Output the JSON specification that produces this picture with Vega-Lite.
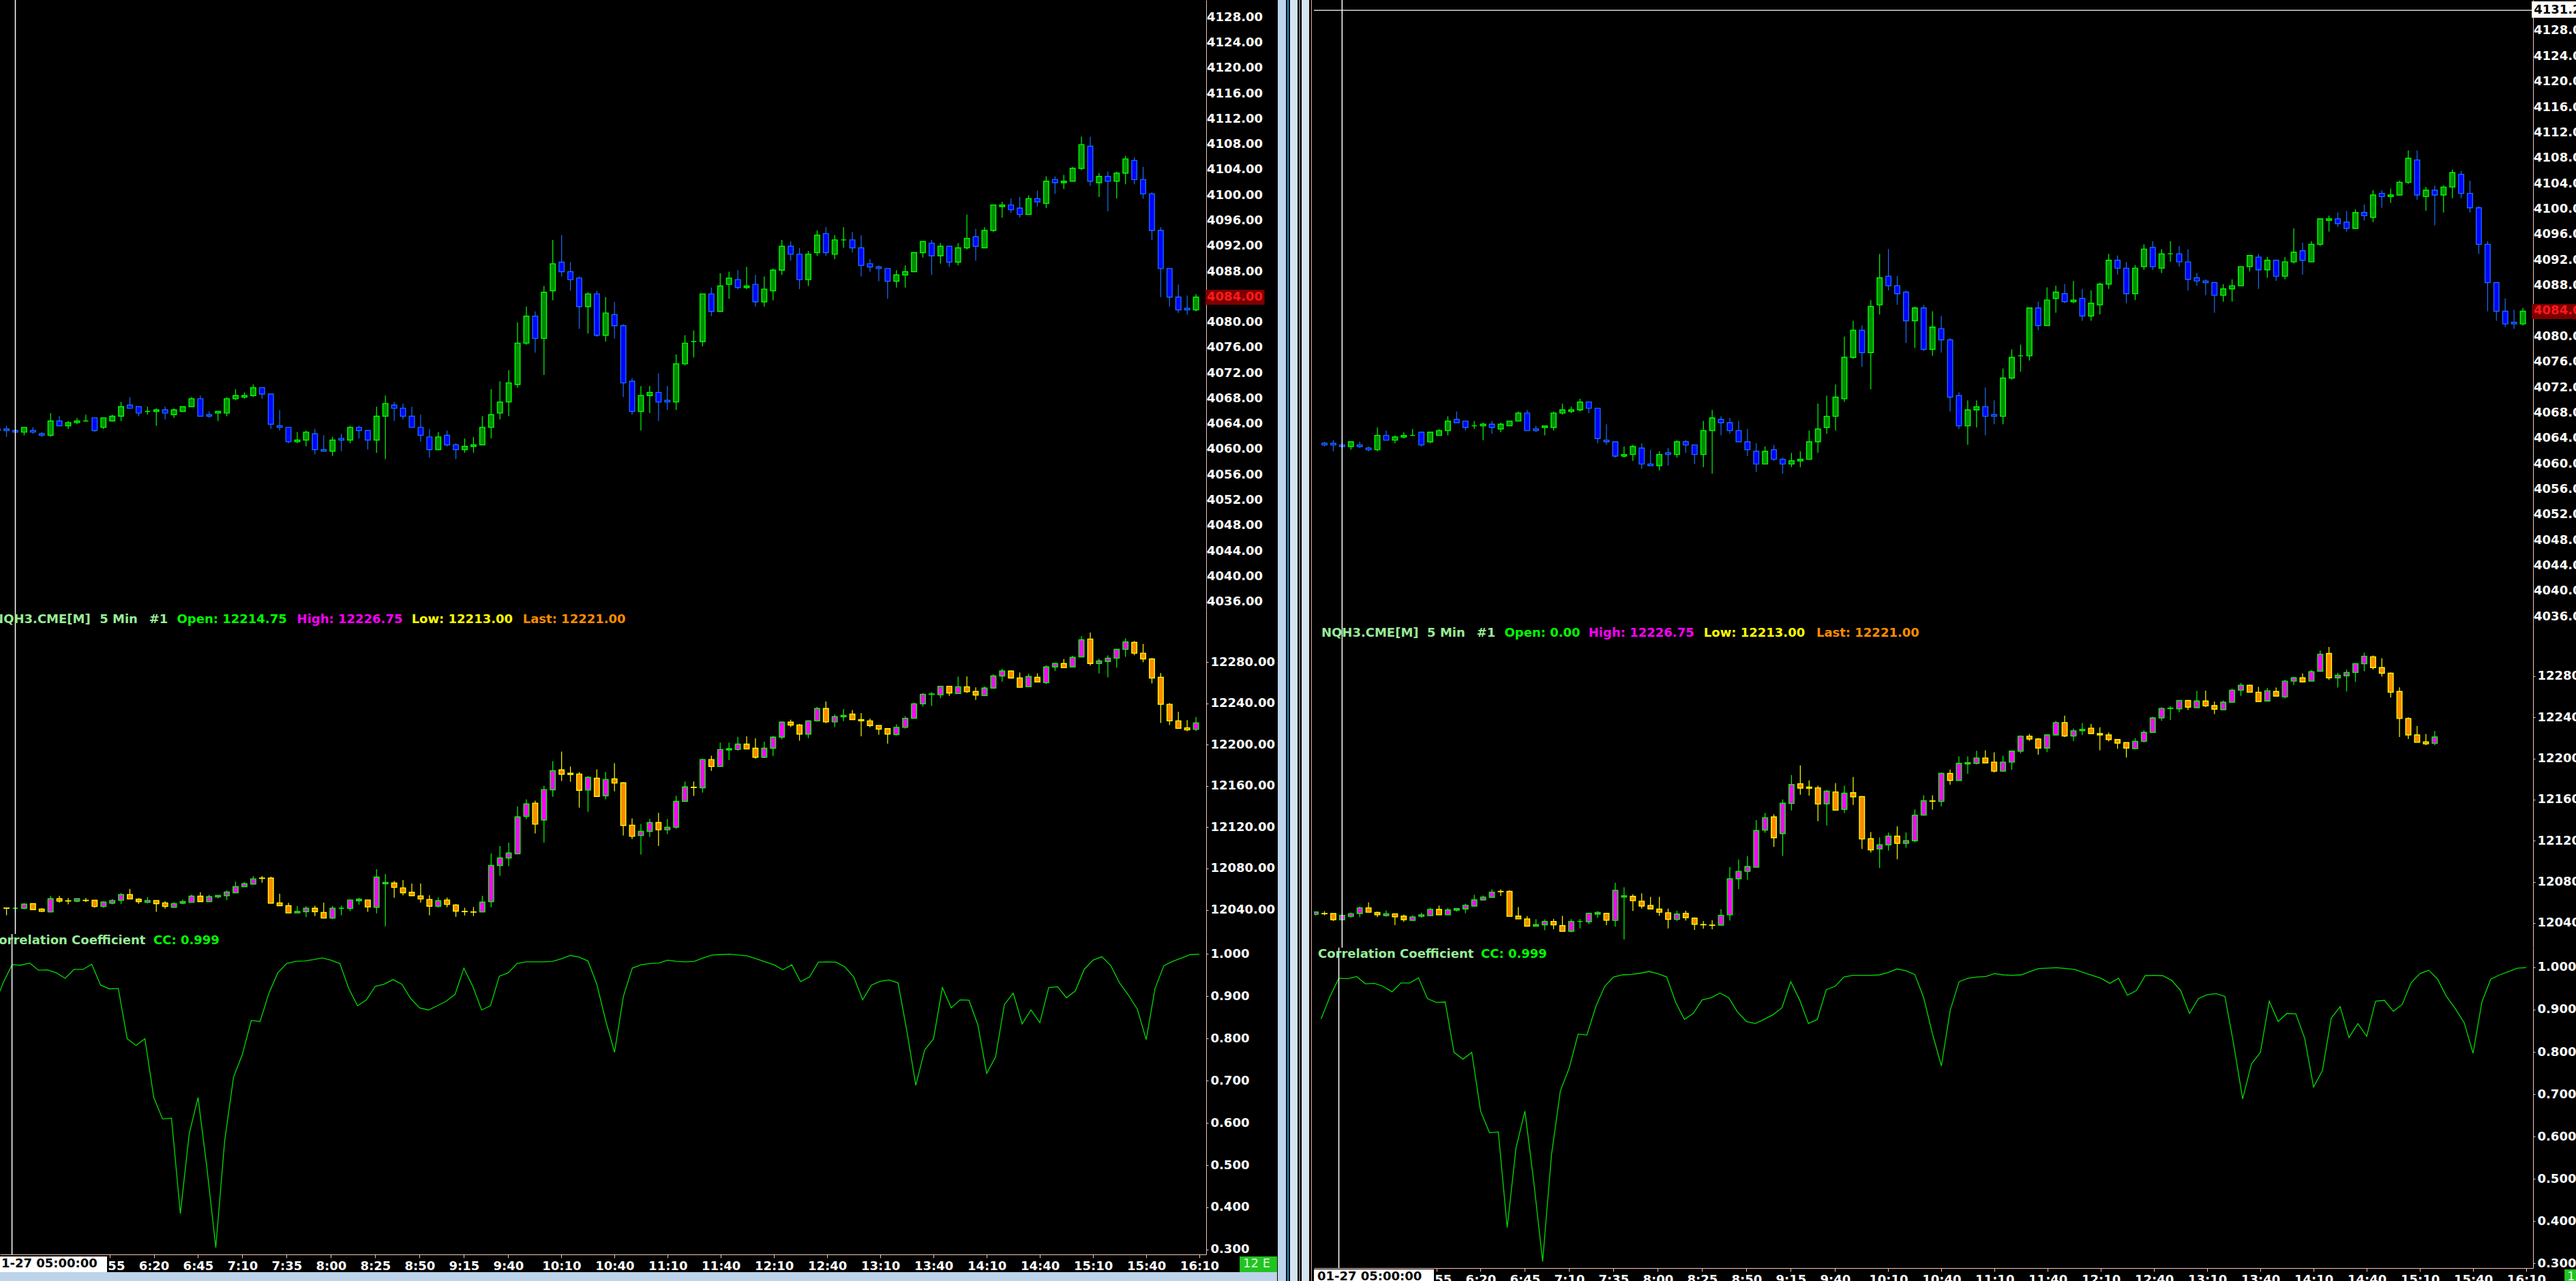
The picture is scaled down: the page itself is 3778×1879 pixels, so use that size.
{
  "$schema": "https://vega.github.io/schema/vega-lite/v6.json",
  "background": "#000000",
  "padding": 0,
  "spacing": 0,
  "config": {
    "view": {"stroke": null},
    "axis": {"grid": false, "labelFont": "DejaVu Sans", "labelFontWeight": "bold", "labelFontSize": 18, "labelColor": "#ffffff", "domainColor": "#f2c6b4", "tickColor": "#f2c6b4", "tickSize": 3, "labelPadding": 3, "labelOverlap": false, "labelFlush": false},
    "text": {"font": "DejaVu Sans", "fontWeight": "bold", "fontSize": 18, "align": "left", "baseline": "middle"}
  },
  "datasets": {
    "bars": [
      {"t": "2023-01-27T04:50", "es_o": 4063.25, "es_h": 4063.5, "es_l": 4062.75, "es_c": 4063, "cc": 0.878},
      {"t": "2023-01-27T04:55", "es_o": 4063.25, "es_h": 4063.75, "es_l": 4062, "es_c": 4063, "nq_o": 12041.75, "nq_h": 12041.75, "nq_l": 12034.75, "nq_c": 12041.5, "cc": 0.931},
      {"t": "2023-01-27T05:00", "es_o": 4063, "es_h": 4063.25, "es_l": 4062.5, "es_c": 4062.75, "nq_o": 12041.5, "nq_h": 12043.75, "nq_l": 12036.5, "nq_c": 12041.5, "cc": 0.974},
      {"t": "2023-01-27T05:05", "es_o": 4062.75, "es_h": 4063.5, "es_l": 4062.25, "es_c": 4063.5, "nq_o": 12041.5, "nq_h": 12046.25, "nq_l": 12040.5, "nq_c": 12045.5, "cc": 0.973},
      {"t": "2023-01-27T05:10", "es_o": 4063, "es_h": 4063.5, "es_l": 4062.5, "es_c": 4062.75, "nq_o": 12046, "nq_h": 12046.25, "nq_l": 12040, "nq_c": 12040.25, "cc": 0.978},
      {"t": "2023-01-27T05:15", "es_o": 4062.5, "es_h": 4062.75, "es_l": 4062, "es_c": 4062.25, "nq_o": 12040.75, "nq_h": 12041.75, "nq_l": 12038, "nq_c": 12038.5, "cc": 0.961},
      {"t": "2023-01-27T05:20", "es_o": 4062.25, "es_h": 4065.75, "es_l": 4062, "es_c": 4064.5, "nq_o": 12038, "nq_h": 12053.5, "nq_l": 12038, "nq_c": 12050.75, "cc": 0.962},
      {"t": "2023-01-27T05:25", "es_o": 4064.5, "es_h": 4065.25, "es_l": 4063.75, "es_c": 4063.75, "nq_o": 12050.75, "nq_h": 12053.5, "nq_l": 12047, "nq_c": 12048.5, "cc": 0.955},
      {"t": "2023-01-27T05:30", "es_o": 4063.75, "es_h": 4064.5, "es_l": 4063.25, "es_c": 4064.25, "nq_o": 12048.75, "nq_h": 12051.5, "nq_l": 12045.25, "nq_c": 12048.5, "cc": 0.942},
      {"t": "2023-01-27T05:35", "es_o": 4064.25, "es_h": 4065, "es_l": 4064, "es_c": 4064.5, "nq_o": 12048.5, "nq_h": 12050.75, "nq_l": 12047.25, "nq_c": 12050.75, "cc": 0.963},
      {"t": "2023-01-27T05:40", "es_o": 4064.5, "es_h": 4065.5, "es_l": 4064.5, "es_c": 4064.5, "nq_o": 12049.25, "nq_h": 12051.5, "nq_l": 12047.5, "nq_c": 12049, "cc": 0.963},
      {"t": "2023-01-27T05:45", "es_o": 4065, "es_h": 4065, "es_l": 4062.75, "es_c": 4063, "nq_o": 12049.25, "nq_h": 12049.25, "nq_l": 12042, "nq_c": 12043.25, "cc": 0.975},
      {"t": "2023-01-27T05:50", "es_o": 4063.5, "es_h": 4065, "es_l": 4063.25, "es_c": 4065, "nq_o": 12043.25, "nq_h": 12048.25, "nq_l": 12042, "nq_c": 12047.5, "cc": 0.926},
      {"t": "2023-01-27T05:55", "es_o": 4064.5, "es_h": 4065.5, "es_l": 4064.5, "es_c": 4065.25, "nq_o": 12046.5, "nq_h": 12050.25, "nq_l": 12045.25, "nq_c": 12049, "cc": 0.917},
      {"t": "2023-01-27T06:00", "es_o": 4065.25, "es_h": 4067.5, "es_l": 4064.5, "es_c": 4066.75, "nq_o": 12049.25, "nq_h": 12056.25, "nq_l": 12045.75, "nq_c": 12054.75, "cc": 0.918},
      {"t": "2023-01-27T06:05", "es_o": 4067, "es_h": 4068.25, "es_l": 4066.5, "es_c": 4066.5, "nq_o": 12054.75, "nq_h": 12060.25, "nq_l": 12050.5, "nq_c": 12050.5, "cc": 0.799},
      {"t": "2023-01-27T06:10", "es_o": 4066.75, "es_h": 4066.75, "es_l": 4065.25, "es_c": 4065.75, "nq_o": 12050.25, "nq_h": 12051.25, "nq_l": 12045.75, "nq_c": 12048, "cc": 0.783},
      {"t": "2023-01-27T06:15", "es_o": 4066, "es_h": 4066.75, "es_l": 4065.5, "es_c": 4066, "nq_o": 12047.25, "nq_h": 12052.25, "nq_l": 12046.25, "nq_c": 12049, "cc": 0.799},
      {"t": "2023-01-27T06:20", "es_o": 4066, "es_h": 4066.5, "es_l": 4063.75, "es_c": 4066.25, "nq_o": 12049, "nq_h": 12049, "nq_l": 12038, "nq_c": 12046, "cc": 0.66},
      {"t": "2023-01-27T06:25", "es_o": 4066.25, "es_h": 4066.75, "es_l": 4064.75, "es_c": 4065.75, "nq_o": 12046.75, "nq_h": 12048.25, "nq_l": 12041.25, "nq_c": 12043.25, "cc": 0.609},
      {"t": "2023-01-27T06:30", "es_o": 4065.5, "es_h": 4066.5, "es_l": 4065, "es_c": 4066.25, "nq_o": 12042.5, "nq_h": 12047.5, "nq_l": 12042.5, "nq_c": 12046, "cc": 0.611},
      {"t": "2023-01-27T06:35", "es_o": 4066, "es_h": 4066.75, "es_l": 4066, "es_c": 4066.75, "nq_o": 12046.5, "nq_h": 12050, "nq_l": 12045.25, "nq_c": 12048, "cc": 0.385},
      {"t": "2023-01-27T06:40", "es_o": 4066.75, "es_h": 4068.25, "es_l": 4066.75, "es_c": 4068, "nq_o": 12047.25, "nq_h": 12054.75, "nq_l": 12047.25, "nq_c": 12053.25, "cc": 0.574},
      {"t": "2023-01-27T06:45", "es_o": 4068, "es_h": 4068.5, "es_l": 4065.25, "es_c": 4065.25, "nq_o": 12053.25, "nq_h": 12057, "nq_l": 12048, "nq_c": 12048, "cc": 0.66},
      {"t": "2023-01-27T06:50", "es_o": 4065.5, "es_h": 4066, "es_l": 4065, "es_c": 4065.25, "nq_o": 12048, "nq_h": 12054.75, "nq_l": 12048, "nq_c": 12052.75, "cc": 0.493},
      {"t": "2023-01-27T06:55", "es_o": 4065.75, "es_h": 4066, "es_l": 4064.5, "es_c": 4066, "nq_o": 12052.5, "nq_h": 12054, "nq_l": 12051.25, "nq_c": 12054, "cc": 0.305},
      {"t": "2023-01-27T07:00", "es_o": 4065.75, "es_h": 4068.25, "es_l": 4065.25, "es_c": 4068, "nq_o": 12053.75, "nq_h": 12058.75, "nq_l": 12049.5, "nq_c": 12057.25, "cc": 0.557},
      {"t": "2023-01-27T07:05", "es_o": 4068, "es_h": 4069.5, "es_l": 4067.75, "es_c": 4068.5, "nq_o": 12056.5, "nq_h": 12067.5, "nq_l": 12056.5, "nq_c": 12062.5, "cc": 0.708},
      {"t": "2023-01-27T07:10", "es_o": 4068.25, "es_h": 4069, "es_l": 4068, "es_c": 4068.5, "nq_o": 12062.5, "nq_h": 12066.75, "nq_l": 12062.5, "nq_c": 12065.25, "cc": 0.762},
      {"t": "2023-01-27T07:15", "es_o": 4068.5, "es_h": 4070.25, "es_l": 4068.25, "es_c": 4069.75, "nq_o": 12065, "nq_h": 12072.75, "nq_l": 12065, "nq_c": 12070, "cc": 0.842},
      {"t": "2023-01-27T07:20", "es_o": 4069.75, "es_h": 4069.75, "es_l": 4068, "es_c": 4068.75, "nq_o": 12070.75, "nq_h": 12072.75, "nq_l": 12066.25, "nq_c": 12070.5, "cc": 0.84},
      {"t": "2023-01-27T07:25", "es_o": 4068.75, "es_h": 4068.75, "es_l": 4063.25, "es_c": 4064, "nq_o": 12070.75, "nq_h": 12072, "nq_l": 12046.5, "nq_c": 12046.5, "cc": 0.907},
      {"t": "2023-01-27T07:30", "es_o": 4063.75, "es_h": 4066.25, "es_l": 4063, "es_c": 4063.5, "nq_o": 12046.75, "nq_h": 12055.5, "nq_l": 12044, "nq_c": 12044, "cc": 0.955},
      {"t": "2023-01-27T07:35", "es_o": 4063.5, "es_h": 4063.5, "es_l": 4061, "es_c": 4061.25, "nq_o": 12044, "nq_h": 12046.75, "nq_l": 12037, "nq_c": 12037, "cc": 0.977},
      {"t": "2023-01-27T07:40", "es_o": 4061.25, "es_h": 4062.75, "es_l": 4061, "es_c": 4061.5, "nq_o": 12037, "nq_h": 12043.75, "nq_l": 12037, "nq_c": 12038.5, "cc": 0.982},
      {"t": "2023-01-27T07:45", "es_o": 4061.5, "es_h": 4063, "es_l": 4060.5, "es_c": 4062.75, "nq_o": 12038.25, "nq_h": 12043.5, "nq_l": 12033, "nq_c": 12041.5, "cc": 0.983},
      {"t": "2023-01-27T07:50", "es_o": 4062.5, "es_h": 4063.25, "es_l": 4059.25, "es_c": 4060, "nq_o": 12041.5, "nq_h": 12044, "nq_l": 12034, "nq_c": 12038.25, "cc": 0.986},
      {"t": "2023-01-27T07:55", "es_o": 4060, "es_h": 4062.25, "es_l": 4059.75, "es_c": 4059.75, "nq_o": 12037.5, "nq_h": 12047, "nq_l": 12032, "nq_c": 12032, "cc": 0.99},
      {"t": "2023-01-27T08:00", "es_o": 4059.75, "es_h": 4062, "es_l": 4059, "es_c": 4061.5, "nq_o": 12032, "nq_h": 12043.75, "nq_l": 12031, "nq_c": 12041.5, "cc": 0.985},
      {"t": "2023-01-27T08:05", "es_o": 4061.75, "es_h": 4062.5, "es_l": 4059.75, "es_c": 4061.5, "nq_o": 12041.5, "nq_h": 12044, "nq_l": 12034.75, "nq_c": 12041.5, "cc": 0.977},
      {"t": "2023-01-27T08:10", "es_o": 4061.5, "es_h": 4063.75, "es_l": 4061, "es_c": 4063.5, "nq_o": 12041.25, "nq_h": 12050, "nq_l": 12038.75, "nq_c": 12049.5, "cc": 0.918},
      {"t": "2023-01-27T08:15", "es_o": 4063.5, "es_h": 4063.75, "es_l": 4061.75, "es_c": 4063, "nq_o": 12048.75, "nq_h": 12051.5, "nq_l": 12045, "nq_c": 12050.25, "cc": 0.877},
      {"t": "2023-01-27T08:20", "es_o": 4063, "es_h": 4063, "es_l": 4060, "es_c": 4061.5, "nq_o": 12049.5, "nq_h": 12049.5, "nq_l": 12038, "nq_c": 12042.75, "cc": 0.891},
      {"t": "2023-01-27T08:25", "es_o": 4061.5, "es_h": 4066.75, "es_l": 4059.5, "es_c": 4065.25, "nq_o": 12042.5, "nq_h": 12079.25, "nq_l": 12036.5, "nq_c": 12071.75, "cc": 0.923},
      {"t": "2023-01-27T08:30", "es_o": 4065.25, "es_h": 4068.5, "es_l": 4058.5, "es_c": 4067.25, "nq_o": 12065.25, "nq_h": 12074.75, "nq_l": 12024, "nq_c": 12066.5, "cc": 0.928},
      {"t": "2023-01-27T08:35", "es_o": 4067, "es_h": 4067.5, "es_l": 4064.5, "es_c": 4066.5, "nq_o": 12066, "nq_h": 12068, "nq_l": 12051.75, "nq_c": 12061.75, "cc": 0.939},
      {"t": "2023-01-27T08:40", "es_o": 4066.5, "es_h": 4067.25, "es_l": 4064.75, "es_c": 4065.25, "nq_o": 12061.25, "nq_h": 12068.75, "nq_l": 12054, "nq_c": 12056.5, "cc": 0.928},
      {"t": "2023-01-27T08:45", "es_o": 4065.25, "es_h": 4066.75, "es_l": 4063.5, "es_c": 4063.5, "nq_o": 12057, "nq_h": 12065.5, "nq_l": 12053.75, "nq_c": 12053.75, "cc": 0.894},
      {"t": "2023-01-27T08:50", "es_o": 4063.5, "es_h": 4065.5, "es_l": 4061.25, "es_c": 4062.25, "nq_o": 12053.5, "nq_h": 12065.5, "nq_l": 12047, "nq_c": 12050.5, "cc": 0.872},
      {"t": "2023-01-27T08:55", "es_o": 4062, "es_h": 4063.25, "es_l": 4058.75, "es_c": 4060, "nq_o": 12050, "nq_h": 12054, "nq_l": 12034.75, "nq_c": 12043.5, "cc": 0.867},
      {"t": "2023-01-27T09:00", "es_o": 4060, "es_h": 4062.75, "es_l": 4060, "es_c": 4062, "nq_o": 12043.5, "nq_h": 12052, "nq_l": 12042, "nq_c": 12048.75, "cc": 0.877},
      {"t": "2023-01-27T09:05", "es_o": 4062.25, "es_h": 4063, "es_l": 4060.5, "es_c": 4060.75, "nq_o": 12049.5, "nq_h": 12052, "nq_l": 12042.5, "nq_c": 12045.25, "cc": 0.888},
      {"t": "2023-01-27T09:10", "es_o": 4060.75, "es_h": 4061, "es_l": 4058.5, "es_c": 4060, "nq_o": 12044.75, "nq_h": 12045.5, "nq_l": 12033.25, "nq_c": 12038.75, "cc": 0.904},
      {"t": "2023-01-27T09:15", "es_o": 4060, "es_h": 4061.75, "es_l": 4059.5, "es_c": 4060.5, "nq_o": 12038.5, "nq_h": 12042, "nq_l": 12034.5, "nq_c": 12038.25, "cc": 0.966},
      {"t": "2023-01-27T09:20", "es_o": 4060.5, "es_h": 4062, "es_l": 4059.5, "es_c": 4060.75, "nq_o": 12038, "nq_h": 12042.75, "nq_l": 12034, "nq_c": 12037.75, "cc": 0.923},
      {"t": "2023-01-27T09:25", "es_o": 4060.75, "es_h": 4065.25, "es_l": 4060.75, "es_c": 4063.5, "nq_o": 12038, "nq_h": 12053.5, "nq_l": 12038, "nq_c": 12047.5, "cc": 0.867},
      {"t": "2023-01-27T09:30", "es_o": 4063.5, "es_h": 4069.5, "es_l": 4061.75, "es_c": 4065.5, "nq_o": 12048, "nq_h": 12094.5, "nq_l": 12042.5, "nq_c": 12083, "cc": 0.877},
      {"t": "2023-01-27T09:35", "es_o": 4065.75, "es_h": 4070.75, "es_l": 4064.75, "es_c": 4067.5, "nq_o": 12083, "nq_h": 12101.75, "nq_l": 12073, "nq_c": 12090.25, "cc": 0.947},
      {"t": "2023-01-27T09:40", "es_o": 4067.5, "es_h": 4072.5, "es_l": 4065.25, "es_c": 4070.5, "nq_o": 12090.25, "nq_h": 12105, "nq_l": 12082.25, "nq_c": 12095, "cc": 0.955},
      {"t": "2023-01-27T09:45", "es_o": 4070.25, "es_h": 4080, "es_l": 4069.75, "es_c": 4076.75, "nq_o": 12094.25, "nq_h": 12140, "nq_l": 12094.25, "nq_c": 12130, "cc": 0.977},
      {"t": "2023-01-27T09:50", "es_o": 4076.75, "es_h": 4082.5, "es_l": 4076.5, "es_c": 4081, "nq_o": 12130.5, "nq_h": 12147, "nq_l": 12127.75, "nq_c": 12142.5, "cc": 0.981},
      {"t": "2023-01-27T09:55", "es_o": 4081, "es_h": 4081.75, "es_l": 4075.25, "es_c": 4077.5, "nq_o": 12143.25, "nq_h": 12145.75, "nq_l": 12114, "nq_c": 12123, "cc": 0.981},
      {"t": "2023-01-27T10:00", "es_o": 4077.5, "es_h": 4085.75, "es_l": 4071.75, "es_c": 4084.75, "nq_o": 12127, "nq_h": 12160.25, "nq_l": 12105.25, "nq_c": 12156.5, "cc": 0.981},
      {"t": "2023-01-27T10:05", "es_o": 4085, "es_h": 4093, "es_l": 4083.5, "es_c": 4089.25, "nq_o": 12156.25, "nq_h": 12184, "nq_l": 12149.5, "nq_c": 12174.75, "cc": 0.982},
      {"t": "2023-01-27T10:10", "es_o": 4089.5, "es_h": 4093.75, "es_l": 4087.25, "es_c": 4088, "nq_o": 12175.5, "nq_h": 12193.25, "nq_l": 12164.75, "nq_c": 12171.25, "cc": 0.988},
      {"t": "2023-01-27T10:15", "es_o": 4088, "es_h": 4089.5, "es_l": 4085, "es_c": 4086.75, "nq_o": 12172.25, "nq_h": 12178.75, "nq_l": 12164, "nq_c": 12171, "cc": 0.996},
      {"t": "2023-01-27T10:20", "es_o": 4087, "es_h": 4087.25, "es_l": 4079, "es_c": 4082.5, "nq_o": 12171.5, "nq_h": 12173.5, "nq_l": 12139, "nq_c": 12155.75, "cc": 0.992},
      {"t": "2023-01-27T10:25", "es_o": 4082.5, "es_h": 4084.75, "es_l": 4078.25, "es_c": 4084.5, "nq_o": 12156, "nq_h": 12169.5, "nq_l": 12135, "nq_c": 12168.25, "cc": 0.983},
      {"t": "2023-01-27T10:30", "es_o": 4084.5, "es_h": 4085, "es_l": 4077.75, "es_c": 4078, "nq_o": 12167.5, "nq_h": 12176, "nq_l": 12149.75, "nq_c": 12149.75, "cc": 0.928},
      {"t": "2023-01-27T10:35", "es_o": 4078, "es_h": 4084, "es_l": 4077, "es_c": 4081.5, "nq_o": 12150.5, "nq_h": 12173.5, "nq_l": 12147, "nq_c": 12166.25, "cc": 0.842},
      {"t": "2023-01-27T10:40", "es_o": 4081.25, "es_h": 4083.25, "es_l": 4077.5, "es_c": 4079.5, "nq_o": 12166.75, "nq_h": 12182, "nq_l": 12154.75, "nq_c": 12162.75, "cc": 0.767},
      {"t": "2023-01-27T10:45", "es_o": 4079.5, "es_h": 4079.75, "es_l": 4068.25, "es_c": 4070.5, "nq_o": 12163, "nq_h": 12163.5, "nq_l": 12112, "nq_c": 12121.75, "cc": 0.899},
      {"t": "2023-01-27T10:50", "es_o": 4070.75, "es_h": 4071.25, "es_l": 4065.5, "es_c": 4066, "nq_o": 12122, "nq_h": 12128.5, "nq_l": 12108.5, "nq_c": 12111.25, "cc": 0.966},
      {"t": "2023-01-27T10:55", "es_o": 4066, "es_h": 4070, "es_l": 4063, "es_c": 4068.5, "nq_o": 12112, "nq_h": 12123.25, "nq_l": 12093.5, "nq_c": 12116, "cc": 0.974},
      {"t": "2023-01-27T11:00", "es_o": 4068.5, "es_h": 4070, "es_l": 4065.75, "es_c": 4069, "nq_o": 12116, "nq_h": 12128, "nq_l": 12110.5, "nq_c": 12124.5, "cc": 0.977},
      {"t": "2023-01-27T11:05", "es_o": 4069, "es_h": 4072, "es_l": 4064.5, "es_c": 4067.5, "nq_o": 12124.5, "nq_h": 12134, "nq_l": 12102, "nq_c": 12117.5, "cc": 0.978},
      {"t": "2023-01-27T11:10", "es_o": 4067.75, "es_h": 4070, "es_l": 4066.25, "es_c": 4067.5, "nq_o": 12117.5, "nq_h": 12128, "nq_l": 12113.25, "nq_c": 12120, "cc": 0.985},
      {"t": "2023-01-27T11:15", "es_o": 4067.5, "es_h": 4075, "es_l": 4066.25, "es_c": 4073.5, "nq_o": 12120, "nq_h": 12150.5, "nq_l": 12118.5, "nq_c": 12145, "cc": 0.982},
      {"t": "2023-01-27T11:20", "es_o": 4073.5, "es_h": 4078, "es_l": 4073.25, "es_c": 4076.75, "nq_o": 12145, "nq_h": 12164.25, "nq_l": 12145, "nq_c": 12159, "cc": 0.981},
      {"t": "2023-01-27T11:25", "es_o": 4077, "es_h": 4078.75, "es_l": 4074.5, "es_c": 4077, "nq_o": 12158.75, "nq_h": 12164.25, "nq_l": 12150.25, "nq_c": 12158.5, "cc": 0.982},
      {"t": "2023-01-27T11:30", "es_o": 4077, "es_h": 4084.5, "es_l": 4076.25, "es_c": 4084.5, "nq_o": 12158.25, "nq_h": 12186.25, "nq_l": 12153.5, "nq_c": 12185.5, "cc": 0.99},
      {"t": "2023-01-27T11:35", "es_o": 4084.5, "es_h": 4085.5, "es_l": 4081, "es_c": 4081.75, "nq_o": 12185.5, "nq_h": 12189.25, "nq_l": 12174.5, "nq_c": 12178.75, "cc": 0.997},
      {"t": "2023-01-27T11:40", "es_o": 4081.75, "es_h": 4087.75, "es_l": 4081.75, "es_c": 4085.75, "nq_o": 12178.75, "nq_h": 12202, "nq_l": 12178.75, "nq_c": 12195.25, "cc": 0.998},
      {"t": "2023-01-27T11:45", "es_o": 4086, "es_h": 4088, "es_l": 4083.75, "es_c": 4087, "nq_o": 12194.75, "nq_h": 12202, "nq_l": 12185, "nq_c": 12196, "cc": 0.999},
      {"t": "2023-01-27T11:50", "es_o": 4086.75, "es_h": 4088.25, "es_l": 4085.25, "es_c": 4085.5, "nq_o": 12195.25, "nq_h": 12207.5, "nq_l": 12194.25, "nq_c": 12200.5, "cc": 0.997},
      {"t": "2023-01-27T11:55", "es_o": 4085.5, "es_h": 4088.75, "es_l": 4085.25, "es_c": 4085.75, "nq_o": 12200.5, "nq_h": 12208, "nq_l": 12195.75, "nq_c": 12195.75, "cc": 0.995},
      {"t": "2023-01-27T12:00", "es_o": 4086, "es_h": 4087.5, "es_l": 4082.5, "es_c": 4083.25, "nq_o": 12196.5, "nq_h": 12206, "nq_l": 12186.5, "nq_c": 12187.75, "cc": 0.988},
      {"t": "2023-01-27T12:05", "es_o": 4083.25, "es_h": 4087.25, "es_l": 4082.5, "es_c": 4085.25, "nq_o": 12187.75, "nq_h": 12202.75, "nq_l": 12187, "nq_c": 12196.5, "cc": 0.981},
      {"t": "2023-01-27T12:10", "es_o": 4085, "es_h": 4088.5, "es_l": 4083.5, "es_c": 4088.25, "nq_o": 12196.5, "nq_h": 12208, "nq_l": 12189, "nq_c": 12207.25, "cc": 0.974},
      {"t": "2023-01-27T12:15", "es_o": 4088.25, "es_h": 4093, "es_l": 4087.5, "es_c": 4092, "nq_o": 12207.25, "nq_h": 12222.5, "nq_l": 12205, "nq_c": 12221.75, "cc": 0.962},
      {"t": "2023-01-27T12:20", "es_o": 4092, "es_h": 4092.75, "es_l": 4089.75, "es_c": 4090.75, "nq_o": 12221.75, "nq_h": 12224, "nq_l": 12217, "nq_c": 12219, "cc": 0.974},
      {"t": "2023-01-27T12:25", "es_o": 4090.75, "es_h": 4091.75, "es_l": 4085.25, "es_c": 4086.75, "nq_o": 12219, "nq_h": 12220, "nq_l": 12203.75, "nq_c": 12210.25, "cc": 0.934},
      {"t": "2023-01-27T12:30", "es_o": 4086.75, "es_h": 4091.25, "es_l": 4085.75, "es_c": 4090.75, "nq_o": 12210.25, "nq_h": 12223.5, "nq_l": 12206.25, "nq_c": 12223, "cc": 0.945},
      {"t": "2023-01-27T12:35", "es_o": 4091, "es_h": 4094.5, "es_l": 4090.5, "es_c": 4093.75, "nq_o": 12223, "nq_h": 12236.5, "nq_l": 12222.5, "nq_c": 12235, "cc": 0.98},
      {"t": "2023-01-27T12:40", "es_o": 4094, "es_h": 4095, "es_l": 4090.5, "es_c": 4091, "nq_o": 12235, "nq_h": 12241.75, "nq_l": 12220.75, "nq_c": 12222, "cc": 0.981},
      {"t": "2023-01-27T12:45", "es_o": 4090.75, "es_h": 4093.75, "es_l": 4090, "es_c": 4093, "nq_o": 12222, "nq_h": 12229.25, "nq_l": 12217, "nq_c": 12227, "cc": 0.98},
      {"t": "2023-01-27T12:50", "es_o": 4093, "es_h": 4095, "es_l": 4091.75, "es_c": 4093, "nq_o": 12227, "nq_h": 12234.5, "nq_l": 12222.75, "nq_c": 12228.25, "cc": 0.969},
      {"t": "2023-01-27T12:55", "es_o": 4093, "es_h": 4094.25, "es_l": 4091, "es_c": 4091.75, "nq_o": 12229.5, "nq_h": 12233.5, "nq_l": 12224.25, "nq_c": 12224.25, "cc": 0.945},
      {"t": "2023-01-27T13:00", "es_o": 4091.75, "es_h": 4093.75, "es_l": 4087.25, "es_c": 4089, "nq_o": 12224.25, "nq_h": 12230.5, "nq_l": 12208, "nq_c": 12223, "cc": 0.891},
      {"t": "2023-01-27T13:05", "es_o": 4089.25, "es_h": 4090, "es_l": 4088, "es_c": 4088.75, "nq_o": 12223, "nq_h": 12225.25, "nq_l": 12216.75, "nq_c": 12218.5, "cc": 0.926},
      {"t": "2023-01-27T13:10", "es_o": 4088.75, "es_h": 4089, "es_l": 4086.5, "es_c": 4088.5, "nq_o": 12218.5, "nq_h": 12218.5, "nq_l": 12209.5, "nq_c": 12215, "cc": 0.935},
      {"t": "2023-01-27T13:15", "es_o": 4088.5, "es_h": 4088.5, "es_l": 4083.75, "es_c": 4086.5, "nq_o": 12215.5, "nq_h": 12215.5, "nq_l": 12201, "nq_c": 12210.25, "cc": 0.938},
      {"t": "2023-01-27T13:20", "es_o": 4086.5, "es_h": 4088.25, "es_l": 4085.5, "es_c": 4087.5, "nq_o": 12209.75, "nq_h": 12219.75, "nq_l": 12209, "nq_c": 12216.75, "cc": 0.931},
      {"t": "2023-01-27T13:25", "es_o": 4087.5, "es_h": 4089, "es_l": 4085.5, "es_c": 4088, "nq_o": 12216.75, "nq_h": 12227.5, "nq_l": 12215.5, "nq_c": 12225.5, "cc": 0.816},
      {"t": "2023-01-27T13:30", "es_o": 4088, "es_h": 4091, "es_l": 4088, "es_c": 4091, "nq_o": 12225.5, "nq_h": 12240.5, "nq_l": 12225.5, "nq_c": 12239.5, "cc": 0.689},
      {"t": "2023-01-27T13:35", "es_o": 4091, "es_h": 4092.75, "es_l": 4090.25, "es_c": 4092.75, "nq_o": 12239.5, "nq_h": 12249.75, "nq_l": 12236.75, "nq_c": 12248.75, "cc": 0.772},
      {"t": "2023-01-27T13:40", "es_o": 4092.5, "es_h": 4093, "es_l": 4087.5, "es_c": 4090.5, "nq_o": 12248.75, "nq_h": 12250.75, "nq_l": 12237.5, "nq_c": 12249, "cc": 0.799},
      {"t": "2023-01-27T13:45", "es_o": 4090.5, "es_h": 4092.5, "es_l": 4089.25, "es_c": 4092, "nq_o": 12248.25, "nq_h": 12256.5, "nq_l": 12245, "nq_c": 12256.5, "cc": 0.92},
      {"t": "2023-01-27T13:50", "es_o": 4092, "es_h": 4092, "es_l": 4088.75, "es_c": 4089.5, "nq_o": 12256.5, "nq_h": 12256.5, "nq_l": 12247.25, "nq_c": 12250, "cc": 0.872},
      {"t": "2023-01-27T13:55", "es_o": 4089.5, "es_h": 4092.5, "es_l": 4089, "es_c": 4091.75, "nq_o": 12249.5, "nq_h": 12265.75, "nq_l": 12249.5, "nq_c": 12256, "cc": 0.891},
      {"t": "2023-01-27T14:00", "es_o": 4091.75, "es_h": 4097, "es_l": 4091.5, "es_c": 4093.25, "nq_o": 12256, "nq_h": 12266, "nq_l": 12250, "nq_c": 12251.25, "cc": 0.89},
      {"t": "2023-01-27T14:05", "es_o": 4093.5, "es_h": 4094.75, "es_l": 4089.75, "es_c": 4092, "nq_o": 12251.5, "nq_h": 12255.5, "nq_l": 12243.25, "nq_c": 12248, "cc": 0.832},
      {"t": "2023-01-27T14:10", "es_o": 4091.75, "es_h": 4095, "es_l": 4091.75, "es_c": 4094.5, "nq_o": 12247.5, "nq_h": 12256.5, "nq_l": 12247.5, "nq_c": 12254.75, "cc": 0.717},
      {"t": "2023-01-27T14:15", "es_o": 4094.5, "es_h": 4098.5, "es_l": 4094.25, "es_c": 4098.5, "nq_o": 12254.75, "nq_h": 12268, "nq_l": 12254.75, "nq_c": 12266.5, "cc": 0.756},
      {"t": "2023-01-27T14:20", "es_o": 4098.25, "es_h": 4099, "es_l": 4096.5, "es_c": 4098.5, "nq_o": 12266.5, "nq_h": 12273.5, "nq_l": 12261, "nq_c": 12271.25, "cc": 0.88},
      {"t": "2023-01-27T14:25", "es_o": 4098.5, "es_h": 4099.5, "es_l": 4097.25, "es_c": 4097.75, "nq_o": 12271.25, "nq_h": 12271.75, "nq_l": 12264.5, "nq_c": 12264.5, "cc": 0.907},
      {"t": "2023-01-27T14:30", "es_o": 4098, "es_h": 4099.75, "es_l": 4096.5, "es_c": 4097, "nq_o": 12264.5, "nq_h": 12269.75, "nq_l": 12255.5, "nq_c": 12255.5, "cc": 0.834},
      {"t": "2023-01-27T14:35", "es_o": 4097, "es_h": 4100, "es_l": 4097, "es_c": 4099.5, "nq_o": 12256, "nq_h": 12268.75, "nq_l": 12256, "nq_c": 12266, "cc": 0.867},
      {"t": "2023-01-27T14:40", "es_o": 4099.5, "es_h": 4100.75, "es_l": 4098.25, "es_c": 4099, "nq_o": 12265.25, "nq_h": 12269, "nq_l": 12260.5, "nq_c": 12260.75, "cc": 0.837},
      {"t": "2023-01-27T14:45", "es_o": 4098.75, "es_h": 4103, "es_l": 4098, "es_c": 4102.25, "nq_o": 12260, "nq_h": 12276.75, "nq_l": 12258.5, "nq_c": 12275.25, "cc": 0.92},
      {"t": "2023-01-27T14:50", "es_o": 4102.5, "es_h": 4103, "es_l": 4100.25, "es_c": 4102, "nq_o": 12275.25, "nq_h": 12279.25, "nq_l": 12271.5, "nq_c": 12278.5, "cc": 0.922},
      {"t": "2023-01-27T14:55", "es_o": 4102, "es_h": 4103.25, "es_l": 4101, "es_c": 4102.25, "nq_o": 12278.5, "nq_h": 12282.75, "nq_l": 12274.5, "nq_c": 12274.5, "cc": 0.896},
      {"t": "2023-01-27T15:00", "es_o": 4102.25, "es_h": 4104.5, "es_l": 4102.25, "es_c": 4104.25, "nq_o": 12275.25, "nq_h": 12286, "nq_l": 12275.25, "nq_c": 12284.5, "cc": 0.912},
      {"t": "2023-01-27T15:05", "es_o": 4104.25, "es_h": 4109.25, "es_l": 4104, "es_c": 4108, "nq_o": 12285, "nq_h": 12305, "nq_l": 12285, "nq_c": 12301.5, "cc": 0.963},
      {"t": "2023-01-27T15:10", "es_o": 4107.75, "es_h": 4109.25, "es_l": 4101.5, "es_c": 4102.25, "nq_o": 12302.25, "nq_h": 12308.5, "nq_l": 12276.5, "nq_c": 12278.5, "cc": 0.985},
      {"t": "2023-01-27T15:15", "es_o": 4102, "es_h": 4103.5, "es_l": 4099.75, "es_c": 4103, "nq_o": 12278.5, "nq_h": 12283.25, "nq_l": 12269, "nq_c": 12281, "cc": 0.993},
      {"t": "2023-01-27T15:20", "es_o": 4103, "es_h": 4103.75, "es_l": 4097.5, "es_c": 4102.25, "nq_o": 12280.5, "nq_h": 12286.5, "nq_l": 12265.25, "nq_c": 12283.75, "cc": 0.972},
      {"t": "2023-01-27T15:25", "es_o": 4102.25, "es_h": 4103.75, "es_l": 4099.5, "es_c": 4103.5, "nq_o": 12283.75, "nq_h": 12292.25, "nq_l": 12274.5, "nq_c": 12292.25, "cc": 0.931},
      {"t": "2023-01-27T15:30", "es_o": 4103.5, "es_h": 4106.25, "es_l": 4101.75, "es_c": 4105.75, "nq_o": 12292.25, "nq_h": 12303, "nq_l": 12285, "nq_c": 12299.5, "cc": 0.902},
      {"t": "2023-01-27T15:35", "es_o": 4105.5, "es_h": 4106, "es_l": 4101.75, "es_c": 4102.5, "nq_o": 12299, "nq_h": 12300.25, "nq_l": 12286.5, "nq_c": 12288.5, "cc": 0.869},
      {"t": "2023-01-27T15:40", "es_o": 4102.5, "es_h": 4104.5, "es_l": 4099.5, "es_c": 4100.25, "nq_o": 12288.5, "nq_h": 12297.5, "nq_l": 12279.75, "nq_c": 12283, "cc": 0.797},
      {"t": "2023-01-27T15:45", "es_o": 4100.25, "es_h": 4100.5, "es_l": 4093, "es_c": 4094.5, "nq_o": 12283, "nq_h": 12283.75, "nq_l": 12259.25, "nq_c": 12264.5, "cc": 0.918},
      {"t": "2023-01-27T15:50", "es_o": 4094.5, "es_h": 4095, "es_l": 4084, "es_c": 4088.5, "nq_o": 12265.25, "nq_h": 12269.25, "nq_l": 12221, "nq_c": 12239, "cc": 0.972},
      {"t": "2023-01-27T15:55", "es_o": 4088.5, "es_h": 4088.5, "es_l": 4082.5, "es_c": 4084, "nq_o": 12239, "nq_h": 12240.25, "nq_l": 12219, "nq_c": 12223, "cc": 0.982},
      {"t": "2023-01-27T16:00", "es_o": 4084, "es_h": 4086, "es_l": 4081.5, "es_c": 4082, "nq_o": 12223, "nq_h": 12231.75, "nq_l": 12215.75, "nq_c": 12215.75, "cc": 0.99},
      {"t": "2023-01-27T16:05", "es_o": 4082.25, "es_h": 4084.25, "es_l": 4081.25, "es_c": 4082, "nq_o": 12216.25, "nq_h": 12223.75, "nq_l": 12213, "nq_c": 12214.25, "cc": 0.998},
      {"t": "2023-01-27T16:10", "es_o": 4082, "es_h": 4084.5, "es_l": 4081.75, "es_c": 4084, "nq_o": 12214.75, "nq_h": 12226.75, "nq_l": 12213, "nq_c": 12221, "cc": 0.999}
    ],
    "esTicks": [
      {"v": 4036}, {"v": 4040}, {"v": 4044}, {"v": 4048}, {"v": 4052}, {"v": 4056}, {"v": 4060}, {"v": 4064},
      {"v": 4068}, {"v": 4072}, {"v": 4076}, {"v": 4080}, {"v": 4084}, {"v": 4088}, {"v": 4092}, {"v": 4096},
      {"v": 4100}, {"v": 4104}, {"v": 4108}, {"v": 4112}, {"v": 4116}, {"v": 4120}, {"v": 4124}, {"v": 4128}
    ]
  },
  "hconcat": [
    {
      "spacing": 0,
      "vconcat": [
        {
          "width": 1769,
          "height": 895,
          "data": {"name": "bars"},
          "layer": [
            {"mark": {"type": "rule", "strokeWidth": 1.2, "clip": true},
             "encoding": {
               "x": {"field": "t", "type": "temporal", "title": null, "axis": null, "scale": {"domain": [{"year": 2023, "month": 1, "date": 27, "hours": 4, "minutes": 53, "seconds": 14}, {"year": 2023, "month": 1, "date": 27, "hours": 16, "minutes": 13, "seconds": 51}], "nice": false}},
               "y": {"field": "es_l", "type": "quantitative", "title": null, "scale": {"domain": [4034.73, 4130.76], "zero": false, "nice": false}}, "y2": {"field": "es_h"},
               "color": {"condition": {"test": "datum.es_c >= datum.es_o", "value": "#00ff00"}, "value": "#1a6dff"}}},
            {"mark": {"type": "bar", "size": 7.5, "strokeWidth": 1.4, "clip": true},
             "encoding": {
               "x": {"field": "t", "type": "temporal", "title": null, "axis": null},
               "y": {"field": "es_o", "type": "quantitative", "title": null, "scale": {"domain": [4034.73, 4130.76], "zero": false, "nice": false}, "axis": {"orient": "right", "labels": false, "values": [4036, 4040, 4044, 4048, 4052, 4056, 4060, 4064, 4068, 4072, 4076, 4080, 4084, 4088, 4092, 4096, 4100, 4104, 4108, 4112, 4116, 4120, 4124, 4128]}}, "y2": {"field": "es_c"},
               "fill": {"condition": {"test": "datum.es_c >= datum.es_o", "value": "#008c00"}, "value": "#0000ff"},
               "stroke": {"condition": {"test": "datum.es_c >= datum.es_o", "value": "#00ff00"}, "value": "#1a6dff"}}},
            {"data": {"values": [{}]}, "mark": {"type": "rect", "color": "#7d0000"},
             "encoding": {"x": {"datum": {"year": 2023, "month": 1, "date": 27, "hours": 16, "minutes": 15, "seconds": 24}, "type": "temporal", "axis": null, "title": null}, "x2": {"datum": {"year": 2023, "month": 1, "date": 27, "hours": 16, "minutes": 48, "seconds": 54}}, "y": {"datum": 4082.8, "type": "quantitative", "title": null}, "y2": {"datum": 4085.16}}},
            {"data": {"name": "esTicks"}, "mark": {"type": "text"},
             "encoding": {"x": {"datum": {"year": 2023, "month": 1, "date": 27, "hours": 16, "minutes": 16, "seconds": 12}, "type": "temporal", "axis": null, "title": null}, "y": {"field": "v", "type": "quantitative", "title": null}, "text": {"field": "v", "type": "quantitative", "format": ".2f"}, "color": {"condition": {"test": "datum.v == 4084", "value": "#ff1a1a"}, "value": "#ffffff"}}},
            {"data": {"values": [{}]}, "mark": {"type": "rule", "color": "#ffffff", "strokeWidth": 1.5, "clip": true},
             "encoding": {"x": {"datum": {"year": 2023, "month": 1, "date": 27, "hours": 5, "minutes": 0}, "type": "temporal", "axis": null, "title": null}}}
          ]
        },
        {
          "width": 1769,
          "height": 475,
          "data": {"name": "bars"},
          "layer": [
            {"mark": {"type": "rule", "strokeWidth": 1.2, "clip": true},
             "encoding": {
               "x": {"field": "t", "type": "temporal", "title": null, "axis": null, "scale": {"domain": [{"year": 2023, "month": 1, "date": 27, "hours": 4, "minutes": 53, "seconds": 14}, {"year": 2023, "month": 1, "date": 27, "hours": 16, "minutes": 13, "seconds": 51}], "nice": false}},
               "y": {"field": "nq_l", "type": "quantitative", "title": null, "scale": {"domain": [12016.6, 12330.2], "zero": false, "nice": false}}, "y2": {"field": "nq_h"},
               "color": {"condition": {"test": "datum.nq_c >= datum.nq_o", "value": "#00ff00"}, "value": "#ffff00"}}},
            {"mark": {"type": "bar", "size": 7.5, "strokeWidth": 1.4, "clip": true},
             "encoding": {
               "x": {"field": "t", "type": "temporal", "title": null, "axis": null},
               "y": {"field": "nq_o", "type": "quantitative", "title": null, "scale": {"domain": [12016.6, 12330.2], "zero": false, "nice": false}, "axis": {"orient": "right", "format": ".2f", "labelOverlap": false, "values": [12040, 12080, 12120, 12160, 12200, 12240, 12280]}}, "y2": {"field": "nq_c"},
               "fill": {"condition": {"test": "datum.nq_c >= datum.nq_o", "value": "#ff00ff"}, "value": "#ff8800"},
               "stroke": {"condition": {"test": "datum.nq_c >= datum.nq_o", "value": "#00ff00"}, "value": "#ffff00"}}},
            {"data": {"values": [{}]}, "mark": {"type": "rule", "color": "#ffffff", "strokeWidth": 1.5, "clip": true},
             "encoding": {"x": {"datum": {"year": 2023, "month": 1, "date": 27, "hours": 5, "minutes": 0}, "type": "temporal", "axis": null, "title": null}}},
            {"data": {"values": [{}]}, "mark": {"type": "text", "text": "NQH3.CME[M]", "color": "#98ec98", "clip": true},
             "encoding": {"x": {"datum": {"year": 2023, "month": 1, "date": 27, "hours": 4, "minutes": 47, "seconds": 28}, "type": "temporal", "axis": null, "title": null}, "y": {"datum": 12321, "type": "quantitative", "title": null}}},
            {"data": {"values": [{}]}, "mark": {"type": "text", "text": "5 Min", "color": "#98ec98", "clip": true},
             "encoding": {"x": {"datum": {"year": 2023, "month": 1, "date": 27, "hours": 5, "minutes": 47, "seconds": 52}, "type": "temporal", "axis": null, "title": null}, "y": {"datum": 12321, "type": "quantitative", "title": null}}},
            {"data": {"values": [{}]}, "mark": {"type": "text", "text": "#1", "color": "#98ec98", "clip": true},
             "encoding": {"x": {"datum": {"year": 2023, "month": 1, "date": 27, "hours": 6, "minutes": 15, "seconds": 57}, "type": "temporal", "axis": null, "title": null}, "y": {"datum": 12321, "type": "quantitative", "title": null}}},
            {"data": {"values": [{}]}, "mark": {"type": "text", "text": "Open: 12214.75", "color": "#00ff00", "clip": true},
             "encoding": {"x": {"datum": {"year": 2023, "month": 1, "date": 27, "hours": 6, "minutes": 31, "seconds": 44}, "type": "temporal", "axis": null, "title": null}, "y": {"datum": 12321, "type": "quantitative", "title": null}}},
            {"data": {"values": [{}]}, "mark": {"type": "text", "text": "High: 12226.75", "color": "#ff00ff", "clip": true},
             "encoding": {"x": {"datum": {"year": 2023, "month": 1, "date": 27, "hours": 7, "minutes": 39, "seconds": 50}, "type": "temporal", "axis": null, "title": null}, "y": {"datum": 12321, "type": "quantitative", "title": null}}},
            {"data": {"values": [{}]}, "mark": {"type": "text", "text": "Low: 12213.00", "color": "#ffff00", "clip": true},
             "encoding": {"x": {"datum": {"year": 2023, "month": 1, "date": 27, "hours": 8, "minutes": 44, "seconds": 52}, "type": "temporal", "axis": null, "title": null}, "y": {"datum": 12321, "type": "quantitative", "title": null}}},
            {"data": {"values": [{}]}, "mark": {"type": "text", "text": "Last: 12221.00", "color": "#ff8c00", "clip": true},
             "encoding": {"x": {"datum": {"year": 2023, "month": 1, "date": 27, "hours": 9, "minutes": 47, "seconds": 58}, "type": "temporal", "axis": null, "title": null}, "y": {"datum": 12321, "type": "quantitative", "title": null}}}
          ]
        },
        {
          "width": 1769,
          "height": 470,
          "data": {"name": "bars"},
          "layer": [
            {"mark": {"type": "line", "color": "#00dd00", "strokeWidth": 1.3, "clip": true},
             "encoding": {
               "x": {"field": "t", "type": "temporal", "title": null, "scale": {"domain": [{"year": 2023, "month": 1, "date": 27, "hours": 4, "minutes": 53, "seconds": 14}, {"year": 2023, "month": 1, "date": 27, "hours": 16, "minutes": 13, "seconds": 51}], "nice": false},
                 "axis": {"orient": "bottom", "format": "%-H:%M", "tickSize": 5, "labelPadding": 3, "zindex": 0, "labelOverlap": false, "values": [
                   {"year": 2023, "month": 1, "date": 27, "hours": 5, "minutes": 55},
                   {"year": 2023, "month": 1, "date": 27, "hours": 6, "minutes": 20}, {"year": 2023, "month": 1, "date": 27, "hours": 6, "minutes": 45},
                   {"year": 2023, "month": 1, "date": 27, "hours": 7, "minutes": 10}, {"year": 2023, "month": 1, "date": 27, "hours": 7, "minutes": 35},
                   {"year": 2023, "month": 1, "date": 27, "hours": 8, "minutes": 0}, {"year": 2023, "month": 1, "date": 27, "hours": 8, "minutes": 25},
                   {"year": 2023, "month": 1, "date": 27, "hours": 8, "minutes": 50}, {"year": 2023, "month": 1, "date": 27, "hours": 9, "minutes": 15},
                   {"year": 2023, "month": 1, "date": 27, "hours": 9, "minutes": 40}, {"year": 2023, "month": 1, "date": 27, "hours": 10, "minutes": 10},
                   {"year": 2023, "month": 1, "date": 27, "hours": 10, "minutes": 40}, {"year": 2023, "month": 1, "date": 27, "hours": 11, "minutes": 10},
                   {"year": 2023, "month": 1, "date": 27, "hours": 11, "minutes": 40}, {"year": 2023, "month": 1, "date": 27, "hours": 12, "minutes": 10},
                   {"year": 2023, "month": 1, "date": 27, "hours": 12, "minutes": 40}, {"year": 2023, "month": 1, "date": 27, "hours": 13, "minutes": 10},
                   {"year": 2023, "month": 1, "date": 27, "hours": 13, "minutes": 40}, {"year": 2023, "month": 1, "date": 27, "hours": 14, "minutes": 10},
                   {"year": 2023, "month": 1, "date": 27, "hours": 14, "minutes": 40}, {"year": 2023, "month": 1, "date": 27, "hours": 15, "minutes": 10},
                   {"year": 2023, "month": 1, "date": 27, "hours": 15, "minutes": 40}, {"year": 2023, "month": 1, "date": 27, "hours": 16, "minutes": 10}]}},
               "y": {"field": "cc", "type": "quantitative", "title": null, "scale": {"domain": [0.2887, 1.0468], "zero": false, "nice": false}, "axis": {"orient": "right", "format": ".3f", "labelOverlap": false, "values": [0.3, 0.4, 0.5, 0.6, 0.7, 0.8, 0.9, 1.0]}}}},
            {"data": {"values": [{}]}, "mark": {"type": "rule", "color": "#ffffff", "strokeWidth": 1.5, "clip": true},
             "encoding": {"x": {"datum": {"year": 2023, "month": 1, "date": 27, "hours": 5, "minutes": 0}, "type": "temporal", "title": null}}},
            {"data": {"values": [{}]}, "mark": {"type": "text", "text": "Correlation Coefficient", "color": "#98ec98", "clip": true},
             "encoding": {"x": {"datum": {"year": 2023, "month": 1, "date": 27, "hours": 4, "minutes": 47, "seconds": 28}, "type": "temporal", "title": null}, "y": {"datum": 1.0305, "type": "quantitative", "title": null}}},
            {"data": {"values": [{}]}, "mark": {"type": "text", "text": "CC: 0.999", "color": "#00ff00", "clip": true},
             "encoding": {"x": {"datum": {"year": 2023, "month": 1, "date": 27, "hours": 6, "minutes": 19, "seconds": 48}, "type": "temporal", "title": null}, "y": {"datum": 1.0305, "type": "quantitative", "title": null}}},
            {"data": {"values": [{}]}, "mark": {"type": "rect", "color": "#ffffff"},
             "encoding": {"x": {"datum": {"year": 2023, "month": 1, "date": 27, "hours": 4, "minutes": 53, "seconds": 14}, "type": "temporal", "title": null}, "x2": {"datum": {"year": 2023, "month": 1, "date": 27, "hours": 5, "minutes": 53, "seconds": 38}}, "y": {"datum": 0.2468, "type": "quantitative", "title": null}, "y2": {"datum": 0.2839}}},
            {"data": {"values": [{}]}, "mark": {"type": "text", "text": "1-27 05:00:00", "color": "#000000"},
             "encoding": {"x": {"datum": {"year": 2023, "month": 1, "date": 27, "hours": 4, "minutes": 54}, "type": "temporal", "title": null}, "y": {"datum": 0.2655, "type": "quantitative", "title": null}}},
            {"data": {"values": [{}]}, "mark": {"type": "rect", "color": "#22c322"},
             "encoding": {"x": {"datum": {"year": 2023, "month": 1, "date": 27, "hours": 16, "minutes": 32, "seconds": 44}, "type": "temporal", "title": null}, "x2": {"datum": {"year": 2023, "month": 1, "date": 27, "hours": 16, "minutes": 53, "seconds": 54}}, "y": {"datum": 0.2468, "type": "quantitative", "title": null}, "y2": {"datum": 0.2839}}},
            {"data": {"values": [{}]}, "mark": {"type": "text", "text": "12 E", "color": "#d8ffd8", "fontWeight": "normal"},
             "encoding": {"x": {"datum": {"year": 2023, "month": 1, "date": 27, "hours": 16, "minutes": 34, "seconds": 39}, "type": "temporal", "title": null}, "y": {"datum": 0.2655, "type": "quantitative", "title": null}}}
          ]
        },
        {"width": 1873, "height": 13, "view": {"fill": "#bcd3ea", "stroke": null}, "data": {"values": [{}]}, "mark": {"type": "point", "opacity": 0}, "encoding": {}}
      ]
    },
    {"width": 12, "height": 1900, "view": {"fill": "#bdd4ec", "stroke": null}, "data": {"values": [{}]}, "mark": {"type": "point", "opacity": 0}, "encoding": {}},
    {"width": 2, "height": 1900, "view": {"fill": "#2a9ad8", "stroke": null}, "data": {"values": [{}]}, "mark": {"type": "point", "opacity": 0}, "encoding": {}},
    {"width": 11, "height": 1900, "view": {"fill": "#d6e4f2", "stroke": null}, "data": {"values": [{}]}, "mark": {"type": "point", "opacity": 0}, "encoding": {}},
    {"width": 2, "height": 1900, "view": {"fill": "#6c6c6c", "stroke": null}, "data": {"values": [{}]}, "mark": {"type": "point", "opacity": 0}, "encoding": {}},
    {"width": 11, "height": 1900, "view": {"fill": "#d6e4f2", "stroke": null}, "data": {"values": [{}]}, "mark": {"type": "point", "opacity": 0}, "encoding": {}},
    {"width": 1, "height": 1900, "view": {"fill": "#f0a890", "stroke": null}, "data": {"values": [{}]}, "mark": {"type": "point", "opacity": 0}, "encoding": {}},
    {
      "spacing": 0,
      "vconcat": [
        {
          "width": 1788,
          "height": 915,
          "data": {"name": "bars"},
          "layer": [
            {"mark": {"type": "rule", "strokeWidth": 1.2, "clip": true},
             "encoding": {
               "x": {"field": "t", "type": "temporal", "title": null, "axis": null, "scale": {"domain": [{"year": 2023, "month": 1, "date": 27, "hours": 4, "minutes": 45, "seconds": 56}, {"year": 2023, "month": 1, "date": 27, "hours": 16, "minutes": 13, "seconds": 51}], "nice": false}},
               "y": {"field": "es_l", "type": "quantitative", "title": null, "scale": {"domain": [4034.91, 4132.87], "zero": false, "nice": false}}, "y2": {"field": "es_h"},
               "color": {"condition": {"test": "datum.es_c >= datum.es_o", "value": "#00ff00"}, "value": "#1a6dff"}}},
            {"mark": {"type": "bar", "size": 7.5, "strokeWidth": 1.4, "clip": true},
             "encoding": {
               "x": {"field": "t", "type": "temporal", "title": null, "axis": null},
               "y": {"field": "es_o", "type": "quantitative", "title": null, "scale": {"domain": [4034.91, 4132.87], "zero": false, "nice": false}, "axis": {"orient": "right", "labels": false, "values": [4036, 4040, 4044, 4048, 4052, 4056, 4060, 4064, 4068, 4072, 4076, 4080, 4084, 4088, 4092, 4096, 4100, 4104, 4108, 4112, 4116, 4120, 4124, 4128]}}, "y2": {"field": "es_c"},
               "fill": {"condition": {"test": "datum.es_c >= datum.es_o", "value": "#008c00"}, "value": "#0000ff"},
               "stroke": {"condition": {"test": "datum.es_c >= datum.es_o", "value": "#00ff00"}, "value": "#1a6dff"}}},
            {"data": {"values": [{}]}, "mark": {"type": "rect", "color": "#ffffff"},
             "encoding": {"x": {"datum": {"year": 2023, "month": 1, "date": 27, "hours": 16, "minutes": 15, "seconds": 3}, "type": "temporal", "axis": null, "title": null}, "x2": {"datum": {"year": 2023, "month": 1, "date": 27, "hours": 16, "minutes": 52, "seconds": 20}}, "y": {"datum": 4130.08, "type": "quantitative", "title": null}, "y2": {"datum": 4132.65}}},
            {"data": {"values": [{}]}, "mark": {"type": "text", "text": "4131.25", "color": "#000000"},
             "encoding": {"x": {"datum": {"year": 2023, "month": 1, "date": 27, "hours": 16, "minutes": 16, "seconds": 14}, "type": "temporal", "axis": null, "title": null}, "y": {"datum": 4131.3, "type": "quantitative", "title": null}}},
            {"data": {"values": [{}]}, "mark": {"type": "rect", "color": "#7d0000"},
             "encoding": {"x": {"datum": {"year": 2023, "month": 1, "date": 27, "hours": 16, "minutes": 15, "seconds": 3}, "type": "temporal", "axis": null, "title": null}, "x2": {"datum": {"year": 2023, "month": 1, "date": 27, "hours": 16, "minutes": 52, "seconds": 20}}, "y": {"datum": 4082.76, "type": "quantitative", "title": null}, "y2": {"datum": 4085.12}}},
            {"data": {"name": "esTicks"}, "mark": {"type": "text"},
             "encoding": {"x": {"datum": {"year": 2023, "month": 1, "date": 27, "hours": 16, "minutes": 16, "seconds": 12}, "type": "temporal", "axis": null, "title": null}, "y": {"field": "v", "type": "quantitative", "title": null}, "text": {"field": "v", "type": "quantitative", "format": ".2f"}, "color": {"condition": {"test": "datum.v == 4084", "value": "#ff1a1a"}, "value": "#ffffff"}}},
            {"data": {"values": [{}]}, "mark": {"type": "rule", "color": "#ffffff", "strokeWidth": 1.5, "clip": true},
             "encoding": {"x": {"datum": {"year": 2023, "month": 1, "date": 27, "hours": 5, "minutes": 0}, "type": "temporal", "axis": null, "title": null}}},
            {"data": {"values": [{}]}, "mark": {"type": "rule", "color": "#ffffff", "strokeWidth": 1.2, "clip": true},
             "encoding": {"y": {"datum": 4131.25, "type": "quantitative", "title": null}}}
          ]
        },
        {
          "width": 1788,
          "height": 475,
          "data": {"name": "bars"},
          "layer": [
            {"mark": {"type": "rule", "strokeWidth": 1.2, "clip": true},
             "encoding": {
               "x": {"field": "t", "type": "temporal", "title": null, "axis": null, "scale": {"domain": [{"year": 2023, "month": 1, "date": 27, "hours": 5, "minutes": 35, "seconds": 56}, {"year": 2023, "month": 1, "date": 27, "hours": 17, "minutes": 3, "seconds": 51}], "nice": false}},
               "y": {"field": "nq_l", "type": "quantitative", "title": null, "scale": {"domain": [12016.07, 12331.06], "zero": false, "nice": false}}, "y2": {"field": "nq_h"},
               "color": {"condition": {"test": "datum.nq_c >= datum.nq_o", "value": "#00ff00"}, "value": "#ffff00"}}},
            {"mark": {"type": "bar", "size": 7.5, "strokeWidth": 1.4, "clip": true},
             "encoding": {
               "x": {"field": "t", "type": "temporal", "title": null, "axis": null},
               "y": {"field": "nq_o", "type": "quantitative", "title": null, "scale": {"domain": [12016.07, 12331.06], "zero": false, "nice": false}, "axis": {"orient": "right", "format": ".2f", "labelOverlap": false, "values": [12040, 12080, 12120, 12160, 12200, 12240, 12280]}}, "y2": {"field": "nq_c"},
               "fill": {"condition": {"test": "datum.nq_c >= datum.nq_o", "value": "#ff00ff"}, "value": "#ff8800"},
               "stroke": {"condition": {"test": "datum.nq_c >= datum.nq_o", "value": "#00ff00"}, "value": "#ffff00"}}},
            {"data": {"values": [{}]}, "mark": {"type": "rule", "color": "#ffffff", "strokeWidth": 1.5, "clip": true},
             "encoding": {"x": {"datum": {"year": 2023, "month": 1, "date": 27, "hours": 5, "minutes": 50}, "type": "temporal", "axis": null, "title": null}}},
            {"data": {"values": [{}]}, "mark": {"type": "text", "text": "NQH3.CME[M]", "color": "#98ec98", "clip": true},
             "encoding": {"x": {"datum": {"year": 2023, "month": 1, "date": 27, "hours": 5, "minutes": 38, "seconds": 14}, "type": "temporal", "axis": null, "title": null}, "y": {"datum": 12321.8, "type": "quantitative", "title": null}}},
            {"data": {"values": [{}]}, "mark": {"type": "text", "text": "5 Min", "color": "#98ec98", "clip": true},
             "encoding": {"x": {"datum": {"year": 2023, "month": 1, "date": 27, "hours": 6, "minutes": 38, "seconds": 16}, "type": "temporal", "axis": null, "title": null}, "y": {"datum": 12321.8, "type": "quantitative", "title": null}}},
            {"data": {"values": [{}]}, "mark": {"type": "text", "text": "#1", "color": "#98ec98", "clip": true},
             "encoding": {"x": {"datum": {"year": 2023, "month": 1, "date": 27, "hours": 7, "minutes": 6, "seconds": 21}, "type": "temporal", "axis": null, "title": null}, "y": {"datum": 12321.8, "type": "quantitative", "title": null}}},
            {"data": {"values": [{}]}, "mark": {"type": "text", "text": "Open: 0.00", "color": "#00ff00", "clip": true},
             "encoding": {"x": {"datum": {"year": 2023, "month": 1, "date": 27, "hours": 7, "minutes": 22, "seconds": 8}, "type": "temporal", "axis": null, "title": null}, "y": {"datum": 12321.8, "type": "quantitative", "title": null}}},
            {"data": {"values": [{}]}, "mark": {"type": "text", "text": "High: 12226.75", "color": "#ff00ff", "clip": true},
             "encoding": {"x": {"datum": {"year": 2023, "month": 1, "date": 27, "hours": 8, "minutes": 9, "seconds": 50}, "type": "temporal", "axis": null, "title": null}, "y": {"datum": 12321.8, "type": "quantitative", "title": null}}},
            {"data": {"values": [{}]}, "mark": {"type": "text", "text": "Low: 12213.00", "color": "#ffff00", "clip": true},
             "encoding": {"x": {"datum": {"year": 2023, "month": 1, "date": 27, "hours": 9, "minutes": 15, "seconds": 14}, "type": "temporal", "axis": null, "title": null}, "y": {"datum": 12321.8, "type": "quantitative", "title": null}}},
            {"data": {"values": [{}]}, "mark": {"type": "text", "text": "Last: 12221.00", "color": "#ff8c00", "clip": true},
             "encoding": {"x": {"datum": {"year": 2023, "month": 1, "date": 27, "hours": 10, "minutes": 19, "seconds": 7}, "type": "temporal", "axis": null, "title": null}, "y": {"datum": 12321.8, "type": "quantitative", "title": null}}}
          ]
        },
        {
          "width": 1788,
          "height": 470,
          "data": {"name": "bars"},
          "layer": [
            {"mark": {"type": "line", "color": "#00dd00", "strokeWidth": 1.3, "clip": true},
             "encoding": {
               "x": {"field": "t", "type": "temporal", "title": null, "scale": {"domain": [{"year": 2023, "month": 1, "date": 27, "hours": 4, "minutes": 45, "seconds": 56}, {"year": 2023, "month": 1, "date": 27, "hours": 16, "minutes": 13, "seconds": 51}], "nice": false},
                 "axis": {"orient": "bottom", "format": "%-H:%M", "tickSize": 5, "labelPadding": 3, "zindex": 0, "labelOverlap": false, "values": [
                   {"year": 2023, "month": 1, "date": 27, "hours": 5, "minutes": 55},
                   {"year": 2023, "month": 1, "date": 27, "hours": 6, "minutes": 20}, {"year": 2023, "month": 1, "date": 27, "hours": 6, "minutes": 45},
                   {"year": 2023, "month": 1, "date": 27, "hours": 7, "minutes": 10}, {"year": 2023, "month": 1, "date": 27, "hours": 7, "minutes": 35},
                   {"year": 2023, "month": 1, "date": 27, "hours": 8, "minutes": 0}, {"year": 2023, "month": 1, "date": 27, "hours": 8, "minutes": 25},
                   {"year": 2023, "month": 1, "date": 27, "hours": 8, "minutes": 50}, {"year": 2023, "month": 1, "date": 27, "hours": 9, "minutes": 15},
                   {"year": 2023, "month": 1, "date": 27, "hours": 9, "minutes": 40}, {"year": 2023, "month": 1, "date": 27, "hours": 10, "minutes": 10},
                   {"year": 2023, "month": 1, "date": 27, "hours": 10, "minutes": 40}, {"year": 2023, "month": 1, "date": 27, "hours": 11, "minutes": 10},
                   {"year": 2023, "month": 1, "date": 27, "hours": 11, "minutes": 40}, {"year": 2023, "month": 1, "date": 27, "hours": 12, "minutes": 10},
                   {"year": 2023, "month": 1, "date": 27, "hours": 12, "minutes": 40}, {"year": 2023, "month": 1, "date": 27, "hours": 13, "minutes": 10},
                   {"year": 2023, "month": 1, "date": 27, "hours": 13, "minutes": 40}, {"year": 2023, "month": 1, "date": 27, "hours": 14, "minutes": 10},
                   {"year": 2023, "month": 1, "date": 27, "hours": 14, "minutes": 40}, {"year": 2023, "month": 1, "date": 27, "hours": 15, "minutes": 10},
                   {"year": 2023, "month": 1, "date": 27, "hours": 15, "minutes": 40}, {"year": 2023, "month": 1, "date": 27, "hours": 16, "minutes": 10}]}},
               "y": {"field": "cc", "type": "quantitative", "title": null, "scale": {"domain": [0.2895, 1.0464], "zero": false, "nice": false}, "axis": {"orient": "right", "format": ".3f", "labelOverlap": false, "values": [0.3, 0.4, 0.5, 0.6, 0.7, 0.8, 0.9, 1.0]}}}},
            {"data": {"values": [{}]}, "mark": {"type": "rule", "color": "#ffffff", "strokeWidth": 1.5, "clip": true},
             "encoding": {"x": {"datum": {"year": 2023, "month": 1, "date": 27, "hours": 5, "minutes": 0}, "type": "temporal", "title": null}}},
            {"data": {"values": [{}]}, "mark": {"type": "text", "text": "Correlation Coefficient", "color": "#98ec98", "clip": true},
             "encoding": {"x": {"datum": {"year": 2023, "month": 1, "date": 27, "hours": 4, "minutes": 48, "seconds": 14}, "type": "temporal", "title": null}, "y": {"datum": 1.0295, "type": "quantitative", "title": null}}},
            {"data": {"values": [{}]}, "mark": {"type": "text", "text": "CC: 0.999", "color": "#00ff00", "clip": true},
             "encoding": {"x": {"datum": {"year": 2023, "month": 1, "date": 27, "hours": 6, "minutes": 20, "seconds": 12}, "type": "temporal", "title": null}, "y": {"datum": 1.0295, "type": "quantitative", "title": null}}},
            {"data": {"values": [{}]}, "mark": {"type": "rect", "color": "#ffffff"},
             "encoding": {"x": {"datum": {"year": 2023, "month": 1, "date": 27, "hours": 4, "minutes": 45, "seconds": 56}, "type": "temporal", "title": null}, "x2": {"datum": {"year": 2023, "month": 1, "date": 27, "hours": 5, "minutes": 53, "seconds": 39}}, "y": {"datum": 0.2493, "type": "quantitative", "title": null}, "y2": {"datum": 0.2863}}},
            {"data": {"values": [{}]}, "mark": {"type": "text", "text": "01-27 05:00:00", "color": "#000000"},
             "encoding": {"x": {"datum": {"year": 2023, "month": 1, "date": 27, "hours": 4, "minutes": 47, "seconds": 51}, "type": "temporal", "title": null}, "y": {"datum": 0.2686, "type": "quantitative", "title": null}}},
            {"data": {"values": [{}]}, "mark": {"type": "rect", "color": "#22c322"},
             "encoding": {"x": {"datum": {"year": 2023, "month": 1, "date": 27, "hours": 16, "minutes": 31, "seconds": 35}, "type": "temporal", "title": null}, "x2": {"datum": {"year": 2023, "month": 1, "date": 27, "hours": 16, "minutes": 52, "seconds": 20}}, "y": {"datum": 0.2493, "type": "quantitative", "title": null}, "y2": {"datum": 0.2863}}},
            {"data": {"values": [{}]}, "mark": {"type": "text", "text": "12 E", "color": "#d8ffd8", "fontWeight": "normal"},
             "encoding": {"x": {"datum": {"year": 2023, "month": 1, "date": 27, "hours": 16, "minutes": 33, "seconds": 6}, "type": "temporal", "title": null}, "y": {"datum": 0.2686, "type": "quantitative", "title": null}}}
          ]
        }
      ]
    }
  ]
}
